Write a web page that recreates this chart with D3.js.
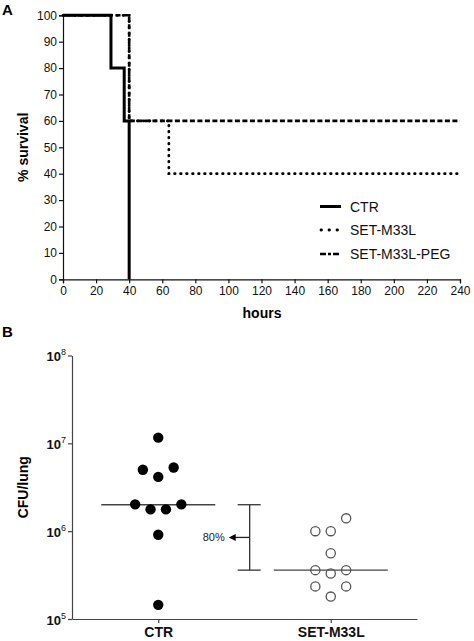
<!DOCTYPE html>
<html>
<head>
<meta charset="utf-8">
<script src="https://cdn.jsdelivr.net/npm/d3@7"></script>
<style>
  html, body { margin: 0; padding: 0; background: #fff; }
  text { font-family: "Liberation Sans", Arial, sans-serif; }
</style>
</head>
<body>
<svg id="chart" width="474" height="641"></svg>
<script>
// ---------- Panel A data (Kaplan-Meier steps) ----------
const survivalTicksX = [0,20,40,60,80,100,120,140,160,180,200,220,240];
const survivalTicksY = [0,10,20,30,40,50,60,70,80,90,100];
const ctrHours   = [0, 29, 37, 40];
const ctrSurv    = [100, 80, 60, 0];
const m33lHours  = [0, 40, 64, 240];
const m33lSurv   = [100, 60, 40, 40];
const pegHours   = [0, 40, 240];
const pegSurv    = [100, 60, 60];
const seriesNames = ["CTR", "SET-M33L", "SET-M33L-PEG"];

// ---------- Panel B data ----------
const groups = ["CTR", "SET-M33L"];
const ctrCFU   = [1.16e7, 5.0e6, 5.3e6, 4.15e6, 2.02e6, 2.02e6, 1.77e6, 1.77e6, 9.1e5, 1.45e5];
const ctrSlot  = [0, -2, 2, 0, -3, 3, -1, 1, 0, 0];
const m33lCFU  = [1.40e6, 1.0e6, 1.0e6, 5.6e5, 3.6e5, 3.6e5, 3.3e5, 2.35e5, 2.35e5, 1.8e5];
const m33lSlot = [2, -2, 0, 0, -2, 2, 0, -2, 2, 0];
const medians  = [2.0e6, 3.6e5];
const cfuTicks = [1e5, 1e6, 1e7, 1e8];
const reductionLabel = "80%";

const svg = d3.select("#chart");
const font = '"Liberation Sans", Arial, sans-serif';

// ================= PANEL A =================
const xA = d3.scaleLinear().domain([0, 240]).range([63, 460]);
const yA = d3.scaleLinear().domain([0, 100]).range([279.3, 15.3]);

const gA = svg.append("g");
const axXA = gA.append("g").attr("transform", `translate(0,${yA(0)})`)
  .call(d3.axisBottom(xA).tickValues(survivalTicksX).tickSize(4).tickPadding(3).tickFormat(d3.format("d")));
const axYA = gA.append("g").attr("transform", `translate(${xA(0)},0)`)
  .call(d3.axisLeft(yA).tickValues(survivalTicksY).tickSize(4).tickPadding(2).tickFormat(d3.format("d")));
[axXA, axYA].forEach(a => {
  a.select(".domain").attr("stroke", "#111").attr("stroke-width", 1.2);
  a.selectAll(".tick line").attr("stroke", "#111").attr("stroke-width", 1.2);
  a.selectAll(".tick text").attr("font-family", font).attr("font-size", 12).attr("fill", "#111");
});

const lineA = d3.line().x(d => xA(d[0])).y(d => yA(d[1])).curve(d3.curveStepAfter);
const styles = [
  { dash: null, width: 3, cap: "butt" },
  { dash: "0.5,5.5", width: 2.8, cap: "round" },
  { dash: "5,2.5", width: 2.6, cap: "butt" }
];
const seriesData = [
  d3.zip(ctrHours, ctrSurv),
  d3.zip(m33lHours, m33lSurv),
  d3.zip(pegHours, pegSurv)
];
// draw SET series first, CTR on top
[2, 1, 0].forEach(i => {
  gA.append("path").datum(seriesData[i])
    .attr("d", lineA)
    .attr("fill", "none")
    .attr("stroke", "#000")
    .attr("stroke-width", styles[i].width)
    .attr("stroke-dasharray", styles[i].dash)
    .attr("stroke-linecap", styles[i].cap);
});

// legend
const legY = [206.5, 230, 254];
seriesNames.forEach((name, i) => {
  gA.append("line")
    .attr("x1", i === 1 ? 321 : 320).attr("x2", 341).attr("y1", legY[i]).attr("y2", legY[i])
    .attr("stroke", "#000").attr("stroke-width", styles[i].width)
    .attr("stroke-dasharray", i === 1 ? "0.5,7.5" : (i === 2 ? "6,2,3,2" : null))
    .attr("stroke-linecap", styles[i].cap);
  gA.append("text").attr("x", 350).attr("y", legY[i] + 5)
    .attr("font-size", 14).attr("fill", "#111").text(name);
});

gA.append("text").attr("x", 262).attr("y", 318).attr("text-anchor", "middle")
  .attr("font-size", 14).attr("font-weight", "bold").text("hours");
gA.append("text").attr("transform", `translate(28,${yA(50)}) rotate(-90)`)
  .attr("text-anchor", "middle").attr("font-size", 14).attr("font-weight", "bold").text("% survival");
gA.append("text").attr("x", 2).attr("y", 15).attr("font-size", 15).attr("font-weight", "bold").text("A");

// ================= PANEL B =================
const xB = d3.scalePoint().domain(groups).range([72, 417]).padding(0.5);
const yB = d3.scaleLog().domain([1e5, 1e8]).range([619, 355.5]);
const slotW = 7.7;

const gB = svg.append("g");
const axXB = gB.append("g").attr("transform", `translate(0,${yB(1e5)})`)
  .call(d3.axisBottom(xB).tickSize(4).tickPadding(3).tickSizeOuter(0));
axXB.select(".domain").attr("stroke", "#444").attr("stroke-width", 1.2);
axXB.selectAll(".tick line").attr("stroke", "#444").attr("stroke-width", 1.2);
axXB.selectAll(".tick text").attr("font-family", font).attr("font-size", 14)
  .attr("font-weight", "bold").attr("fill", "#111").attr("dy", "0.75em");

const axYB = gB.append("g").attr("transform", `translate(72,0)`)
  .call(d3.axisLeft(yB).tickValues(cfuTicks).tickSize(4).tickSizeOuter(0).tickFormat(() => ""));
axYB.select(".domain").attr("stroke", "#444").attr("stroke-width", 1.2);
axYB.selectAll(".tick line").attr("stroke", "#444").attr("stroke-width", 1.2);
axYB.selectAll(".tick").each(function(d) {
  const t = d3.select(this).append("text")
    .attr("x", -6).attr("y", 5).attr("text-anchor", "end")
    .attr("font-family", font).attr("fill", "#111");
  t.append("tspan").attr("font-size", 13).attr("font-weight", "bold").text("10");
  t.append("tspan").attr("font-size", 9).attr("dy", -6).text(Math.round(Math.log10(d)));
});

// median lines
medians.forEach((m, i) => {
  gB.append("line")
    .attr("x1", xB(groups[i]) - 57).attr("x2", xB(groups[i]) + 57)
    .attr("y1", yB(m)).attr("y2", yB(m))
    .attr("stroke", "#444").attr("stroke-width", 1.3);
});

// points
gB.selectAll("circle.ctr").data(d3.zip(ctrCFU, ctrSlot)).join("circle")
  .attr("class", "ctr")
  .attr("cx", d => xB(groups[0]) + d[1] * slotW)
  .attr("cy", d => yB(d[0]))
  .attr("r", 5.2).attr("fill", "#000");
gB.selectAll("circle.m33l").data(d3.zip(m33lCFU, m33lSlot)).join("circle")
  .attr("class", "m33l")
  .attr("cx", d => xB(groups[1]) + d[1] * slotW)
  .attr("cy", d => yB(d[0]))
  .attr("r", 4.6).attr("fill", "none").attr("stroke", "#555").attr("stroke-width", 1.3);

// reduction bracket
const bx = xB(groups[0]) + 0.53 * (xB(groups[1]) - xB(groups[0]));
const yTop = yB(medians[0]), yBot = yB(medians[1]);
const yMid = (yTop + yBot) / 2;
gB.append("line").attr("x1", bx).attr("x2", bx).attr("y1", yTop).attr("y2", yBot)
  .attr("stroke", "#333").attr("stroke-width", 1.3);
[yTop, yBot].forEach(y => gB.append("line")
  .attr("x1", bx - 12).attr("x2", bx + 11).attr("y1", y).attr("y2", y)
  .attr("stroke", "#333").attr("stroke-width", 1.3));
gB.append("line").attr("x1", bx).attr("x2", bx - 15).attr("y1", yMid).attr("y2", yMid)
  .attr("stroke", "#222").attr("stroke-width", 1.3);
gB.append("path")
  .attr("d", `M${bx - 21},${yMid} L${bx - 14},${yMid - 3.5} L${bx - 14},${yMid + 3.5} Z`)
  .attr("fill", "#000");
gB.append("text").attr("x", bx - 25).attr("y", yMid + 4).attr("text-anchor", "end")
  .attr("font-size", 11).attr("fill", "#222").text(reductionLabel);

gB.append("text").attr("transform", `translate(28,${yB(Math.sqrt(1e6 * 1e7)) + 0})rotate(-90)`)
  .attr("text-anchor", "middle").attr("font-size", 14).attr("font-weight", "bold").text("CFU/lung");
gB.append("text").attr("x", 2).attr("y", 337).attr("font-size", 15).attr("font-weight", "bold").text("B");
</script>
</body>
</html>
